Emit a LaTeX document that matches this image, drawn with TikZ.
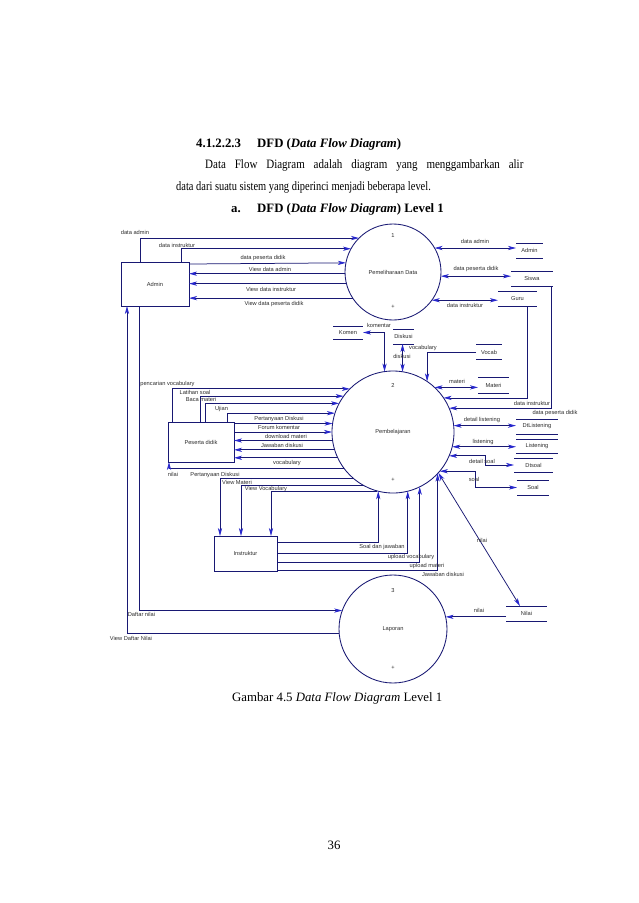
\documentclass[tikz,border=0pt]{standalone}
\usepackage{fontspec}
\usepackage{graphicx}
\usetikzlibrary{arrows.meta,calc}
\newfontfamily\labfont{Liberation Sans}
\newfontfamily\pagefont{Liberation Serif}
\definecolor{ln}{RGB}{24,24,115}
\definecolor{arr}{RGB}{40,40,205}
\definecolor{txt}{RGB}{45,45,45}
\begin{document}
\begin{tikzpicture}[x=1pt,y=-1pt,
  >={Stealth[length=8pt,width=4.2pt,inset=2.2pt,color=arr]},
  flow/.style={draw=ln,line width=0.75pt},
  lab/.style={font=\labfont\fontsize{5.7}{6}\selectfont,inner sep=0pt,text=txt},
  proc/.style={circle,draw=ln,line width=0.85pt,inner sep=0pt,outer sep=0pt,font=\labfont\fontsize{5.7}{6}\selectfont,text=txt},
  ent/.style={rectangle,draw=ln,line width=0.85pt,inner sep=0pt,outer sep=0pt,font=\labfont\fontsize{5.7}{6}\selectfont,text=txt},
  storeline/.style={draw=ln,line width=0.85pt},
  store/.style={inner sep=0pt,outer sep=0pt,minimum height=15pt,font=\labfont\fontsize{5.7}{6}\selectfont,text=txt,
    append after command={(\tikzlastnode.north west) edge[storeline] (\tikzlastnode.north east)
                          (\tikzlastnode.south west) edge[storeline] (\tikzlastnode.south east)}},
  body/.style={font=\pagefont\fontsize{12.8}{15}\selectfont,inner sep=0pt,anchor=base west},
]
\path[use as bounding box,fill=white] (0,0) rectangle (638,903);

% ---------- page text ----------
\node[body] (t1a) at (196,147) {\textbf{4.1.2.2.3}};
\node[body] (t1b) at (257,147) {\textbf{DFD (\textit{Data Flow Diagram})}};
\node[body] (t2) at (205,168) {\scalebox{0.86}[1]{\makebox[370pt][s]{Data Flow Diagram adalah diagram yang menggambarkan alir}}};
\node[body] (t3) at (176,190) {\scalebox{0.815}[1]{data dari suatu sistem yang diperinci menjadi beberapa level.}};
\node[body] (t4a) at (231,212) {\textbf{a.}};
\node[body] (t4b) at (257,212) {\textbf{DFD (\textit{Data Flow Diagram}) Level 1}};
\node[body] (cap) at (232,701) {Gambar 4.5 \textit{Data Flow Diagram} Level 1};
\node[body,anchor=base] (pg) at (334,849) {36};

% ---------- nodes ----------
\node[ent,minimum width=68pt,minimum height=44pt] (adm) at (155,284) {Admin};
\node[proc,minimum size=96pt] (p1) at (393,272) {Pemeliharaan Data};
\node[proc,minimum size=122pt] (p2) at (393,432) {Pembelajaran};
\node[proc,minimum size=108pt] (p3) at (393,629) {Laporan};
\node[ent,minimum width=66pt,minimum height=40pt] (pd) at (201,442) {Peserta didik};
\node[ent,minimum width=63pt,minimum height=35pt] (ins) at (245.5,553.5) {Instruktur};

\node[lab] (p1a) at ($(p1)+(0,-36)$) {1};
\node[lab] (p1b) at ($(p1)+(0,35)$) {+};
\node[lab] (p2a) at ($(p2)+(0,-46)$) {2};
\node[lab] (p2b) at ($(p2)+(0,48)$) {+};
\node[lab] (p3a) at ($(p3)+(0,-38)$) {3};
\node[lab] (p3b) at ($(p3)+(0,39)$) {+};

\node[store,minimum width=27pt] (sAdm) at (529.5,250.5) {Admin};
\node[store,minimum width=42pt] (sSis) at (532,278.5) {Siswa};
\node[store,minimum width=39pt] (sGur) at (517.5,298.5) {Guru};
\node[store,minimum width=30pt,minimum height=13pt] (sKom) at (348,332.5) {Komen};
\node[store,minimum width=21pt] (sDis) at (403.5,336.5) {Diskusi};
\node[store,minimum width=26pt] (sVoc) at (489,352) {Vocab};
\node[store,minimum width=31pt,minimum height=16pt] (sMat) at (493.5,385) {Materi};
\node[store,minimum width=42pt] (sDtl) at (537,426.5) {DtListening};
\node[store,minimum width=42pt,minimum height=14pt] (sLis) at (537,446) {Listening};
\node[store,minimum width=39pt,minimum height=14pt] (sDts) at (533.5,465) {Dtsoal};
\node[store,minimum width=32pt] (sSoal) at (533,487.5) {Soal};
\node[store,minimum width=41pt] (sNil) at (526.5,613.5) {Nilai};

% ---------- flows: Admin - P1 ----------
\draw[flow,->] (adm.north -| 140,0) |- (p1.135);
\draw[flow,->] (adm.north -| 181,0) |- (p1.151);
\draw[flow,->] (adm.east |- 0,264) -- (p1.169);
\draw[flow,->] (p1.182) -- (adm.east |- p1.182);
\draw[flow,->] (p1.194) -- (adm.east |- p1.194);
\draw[flow,->] (p1.213) -- (adm.east |- p1.213);
% P1 - stores
\draw[flow,<->] (p1.30) -- (sAdm.west |- p1.30);
\draw[flow,<->] (p1.355) -- (sSis.west |- p1.355);
\draw[flow,<->] (p1.324) -- (sGur.west |- p1.324);
% stores - P2 (top/right)
\draw[flow,->] (sGur.south -| 527,0) |- (p2.34);
\draw[flow,->] (sSis.south -| 551,0) |- (p2.23);
\draw[flow,<->] (sKom.east) -| (p2.98);
\draw[flow,<->] (sDis.south -| p2.81) -- (p2.81);
\draw[flow,->] (sVoc.west) -| (p2.56);
\draw[flow,<->] (p2.47) -- (sMat.west |- p2.47);
\draw[flow,<->] (p2.6) -- (sDtl.west |- p2.6);
\draw[flow,<->] (p2.346) -- (sLis.west |- p2.346);
\draw[flow,<->] (p2.337) -| (485,0 |- sDts.west) -- (sDts.west);
\draw[flow,<->] (p2.320) -| (475,0 |- sSoal.west) -- (sSoal.west);
\draw[flow,<->] (p2.318) -- (sNil.north -| 520,0);
\draw[flow,->] (sNil.west |- p3.13) -- (p3.13);
% Peserta didik - P2
\draw[flow,->] (pd.north -| 172,0) |- (p2.135);
\draw[flow,->] (pd.north -| 200,0) |- (p2.144);
\draw[flow,->] (pd.north -| 205.5,0) |- (p2.152);
\draw[flow,->] (pd.north -| 227,0) |- (p2.162);
\draw[flow,->] (pd.east |- p2.172) -- (p2.172);
\draw[flow,->] (pd.east |- p2.180) -- (p2.180);
\draw[flow,->] (p2.188) -- (pd.east |- p2.188);
\draw[flow,->] (p2.197) -- (pd.east |- p2.197);
\draw[flow,->] (p2.205) -- (pd.east |- p2.205);
\draw[flow,->] (p2.217) -| (pd.south -| 169,0);
% P2 - Instruktur
\draw[flow,->] (p2.229) -| (ins.north -| 220,0);
\draw[flow,->] (p2.242) -| (ins.north -| 241,0);
\draw[flow,->] (p2.255) -| (ins.north -| 271,0);
\draw[flow,->] (ins.east |- 0,542) -| (p2.256);
\draw[flow,->] (ins.east |- 0,553) -| (p2.284);
\draw[flow,->] (ins.east |- 0,562) -| (p2.296);
\draw[flow,->] (ins.east |- 0,570) -| (p2.317);
% Admin - P3
\draw[flow,->] (adm.south -| 139,0) |- (p3.160);
\draw[flow,->] (p3.185) -| (adm.south -| 127,0);

% ---------- labels ----------
\node[lab] (l1) at (135,232) {data admin};
\node[lab] (l2) at (177,245) {data instruktur};
\node[lab] (l3) at (263,258) {data peserta didik};
\node[lab] (l4) at (270,269) {View data admin};
\node[lab] (l5) at (271,289) {View data instruktur};
\node[lab] (l6) at (274,304) {View data peserta didik};
\node[lab] (l7) at (475,241) {data admin};
\node[lab] (l8) at (476,269.5) {data peserta didik};
\node[lab] (l9) at (465,305) {data instruktur};
\node[lab] (l10) at (379,325) {komentar};
\node[lab] (l11) at (423,348) {vocabulary};
\node[lab] (l12) at (402,356) {diskusi};
\node[lab] (l13) at (457,381) {materi};
\node[lab] (l14) at (532,403) {data instruktur};
\node[lab] (l15) at (555,413) {data peserta didik};
\node[lab] (l16) at (482,420) {detail listening};
\node[lab] (l17) at (483,442) {listening};
\node[lab] (l18) at (482,461) {detail soal};
\node[lab] (l19) at (474,479) {soal};
\node[lab] (l20) at (482,540) {nilai};
\node[lab] (l21) at (479,610) {nilai};
\node[lab] (l22) at (167.5,384) {pencarian vocabulary};
\node[lab] (l23) at (195,392) {Latihan soal};
\node[lab] (l24) at (201,399) {Baca materi};
\node[lab] (l25) at (221.5,409) {Ujian};
\node[lab] (l26) at (279,419) {Pertanyaan Diskusi};
\node[lab] (l27) at (279,427) {Forum komentar};
\node[lab] (l28) at (286,436) {download materi};
\node[lab] (l29) at (282,445) {Jawaban diskusi};
\node[lab] (l30) at (287,463) {vocabulary};
\node[lab] (l31) at (173,474) {nilai};
\node[lab] (l32) at (215,475.5) {Pertanyaan Diskusi};
\node[lab] (l33) at (237,482) {View Materi};
\node[lab] (l34) at (266,489) {View Vocabulary};
\node[lab] (l35) at (382,547) {Soal dan jawaban};
\node[lab] (l36) at (411,557) {upload vocabulary};
\node[lab] (l37) at (427,566) {upload materi};
\node[lab] (l38) at (443,574) {Jawaban diskusi};
\node[lab] (l39) at (141.5,614) {Daftar nilai};
\node[lab] (l40) at (131,638) {View Daftar Nilai};
\end{tikzpicture}
\end{document}
